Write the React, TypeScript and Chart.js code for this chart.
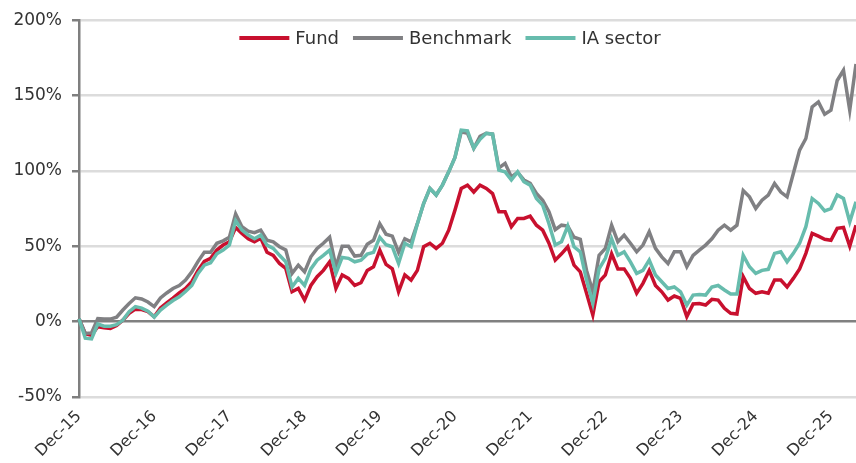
import React, { useEffect, useRef } from 'react';
import { Chart, registerables } from 'chart.js';

Chart.register(...registerables);

const MONTH_NAMES = ['Jan', 'Feb', 'Mar', 'Apr', 'May', 'Jun', 'Jul', 'Aug', 'Sep', 'Oct', 'Nov', 'Dec'];

// Monthly categories from Dec-15 to Apr-26
const categories: string[] = [];
for (let k = 0; k < 125; k++) {
  const m = (11 + k) % 12;
  const y = 15 + Math.floor((11 + k) / 12);
  categories.push(`${MONTH_NAMES[m]}-${y}`);
}

const tickLabels = ['Dec-15', 'Dec-16', 'Dec-17', 'Dec-18', 'Dec-19', 'Dec-20', 'Dec-21', 'Dec-22', 'Dec-23', 'Dec-24', 'Dec-25'];

const fund = [
  2, -8, -9, -3.4, -4, -4.5, -2.5, 1, 5.5, 8.3, 8, 6.6,
  3.3, 9, 12.5, 15.6, 19, 22, 26.5, 34, 40, 42, 47.5, 50.8,
  53, 62.5, 58.5, 55, 53, 55.4, 46, 44, 38.6, 35.3, 19.8, 22,
  14.3, 24, 29.8, 34, 39.7, 22, 31, 28.7, 24, 25.8, 34, 36.4,
  47.5, 38, 35, 19.8, 31, 27.6, 34, 49.7, 52, 48.6, 52, 60.7,
  74, 88.4, 90.6, 86, 90.6, 88.4, 85, 72.9, 72.9, 63, 68.5, 68.5,
  70, 64, 60.7, 52, 40.8, 45, 49.7, 37.5, 33, 18.8, 4.4, 26.5,
  31, 45, 35, 35, 28.7, 18.8, 25.4, 34, 24, 19.8, 14.3, 17,
  15.4, 3.3, 11.7, 12, 11, 14.8, 14.3, 8.8, 5.5, 5, 29.8, 22,
  18.8, 19.8, 18.8, 27.6, 27.6, 23, 28.7, 35, 45.3, 58.5, 56.7, 54.6,
  54, 61.9, 62.5, 50, 64,
];

const benchmark = [
  2, -7.8, -7.5, 2, 1.7, 1.7, 3, 7.7, 12, 15.8, 15, 13,
  10, 15.7, 19, 22, 24, 27.6, 33, 40, 46, 46, 52, 53.6,
  56, 71.5, 63, 60, 59, 60.7, 54, 53, 49.7, 47.5, 32, 37.5,
  33, 43, 48.6, 52, 56, 36.4, 50, 50, 43.5, 44, 51.4, 54,
  65, 58, 56.7, 46, 55, 53, 65, 78.4, 88.4, 84, 90.6, 99.4,
  109, 126, 125, 115, 123, 125, 124.4, 102, 105, 96, 99, 94,
  91.7, 85, 80.6, 72.9, 61, 64, 63.4, 56, 54.6, 34, 19.8, 44,
  48.6, 64, 53, 57.4, 52, 46.3, 50.8, 59.6, 48.6, 43, 38.6, 46.3,
  46.3, 36.4, 44, 47.5, 50.8, 55, 60.7, 64, 60.7, 64, 87, 82.8,
  75, 80.6, 84, 91.7, 86, 82.8, 98.3, 113.8, 121.5, 142.5, 145.8, 137.6,
  140.3, 160, 166.8, 140.3, 171,
];

const iaSector = [
  2, -11, -11.5, -1.6, -3, -3, -2, 1, 6.6, 10, 9, 7,
  3, 7.7, 11, 14, 16.5, 20, 24, 32, 37.5, 39, 45, 47.5,
  50.8, 67, 60.7, 57.4, 55, 57.4, 50.8, 48.6, 44, 39.7, 23, 28.7,
  24, 35, 40.8, 44, 47.5, 32, 42.6, 42, 39.7, 40.8, 44.8, 46,
  56, 51, 49.7, 38.6, 52, 49.7, 65, 78.4, 88.4, 84, 90.6, 99.4,
  109, 127, 126.6, 115, 121, 125, 124.4, 100.5, 99.4, 94, 99.4, 92.8,
  90.6, 81.7, 77.3, 65, 50.8, 53, 63.4, 49.7, 46.3, 27.6, 12, 35,
  42, 55, 44, 46.3, 39.7, 32, 34, 40.8, 31, 26.5, 22, 23,
  19.8, 11, 17.6, 18, 17.6, 23, 24, 21, 18.3, 18.3, 44, 36.4,
  32, 34, 34.7, 45.3, 46.3, 39.7, 45.3, 52, 63, 81.7, 78.4, 73.5,
  75, 84, 81.7, 66.2, 79.5,
];

const yTicks = [-50, 0, 50, 100, 150, 200];

const FONT = "'DejaVu Sans', sans-serif";

// Legend drawn across the top of the plot area, in one row
const topLegend = {
  id: 'topLegend',
  afterDatasetsDraw(chart: any) {
    const ctx = chart.ctx;
    const sw = 50;
    const gap = 6;
    const itemGap = 14;
    ctx.save();
    ctx.font = `18px ${FONT}`;
    const items = chart.data.datasets.map((ds: any) => ({
      label: ds.label,
      color: ds.borderColor,
      w: sw + gap + ctx.measureText(ds.label).width,
    }));
    const total = items.reduce((s: number, it: any) => s + it.w, 0) + itemGap * (items.length - 1);
    let x = 450 - total / 2;
    const y = 38;
    ctx.textBaseline = 'middle';
    ctx.textAlign = 'left';
    items.forEach((it: any) => {
      ctx.strokeStyle = it.color;
      ctx.lineWidth = 4;
      ctx.lineCap = 'butt';
      ctx.beginPath();
      ctx.moveTo(x, y);
      ctx.lineTo(x + sw, y);
      ctx.stroke();
      ctx.fillStyle = '#333333';
      ctx.fillText(it.label, x + sw + gap, y + 1);
      x += it.w + itemGap;
    });
    ctx.restore();
  },
};

export default function App() {
  const canvasRef = useRef<HTMLCanvasElement | null>(null);

  useEffect(() => {
    if (!canvasRef.current) return;
    const chart = new Chart(canvasRef.current, {
      type: 'line',
      data: {
        labels: categories,
        datasets: [
          { label: 'Fund', data: fund, borderColor: '#C8102E', backgroundColor: '#C8102E', borderWidth: 3.5, pointRadius: 0, tension: 0, order: 3 },
          { label: 'Benchmark', data: benchmark, borderColor: '#808083', backgroundColor: '#808083', borderWidth: 3.5, pointRadius: 0, tension: 0, order: 2 },
          { label: 'IA sector', data: iaSector, borderColor: '#67BCAD', backgroundColor: '#67BCAD', borderWidth: 3.5, pointRadius: 0, tension: 0, order: 1 },
        ],
      },
      options: {
        animation: false,
        responsive: false,
        maintainAspectRatio: false,
        layout: { padding: { top: 20, right: 0, left: 0, bottom: 0 } },
        plugins: {
          tooltip: { enabled: false },
          legend: { display: false },
        },
        scales: {
          x: {
            type: 'category',
            grid: { display: false, drawTicks: true, tickLength: 6 },
            border: { display: false },
            ticks: {
              autoSkip: false,
              minRotation: 45,
              maxRotation: 45,
              padding: 4,
              color: '#333333',
              font: { family: FONT, size: 16 },
              callback: (_v: any, i: number) => (tickLabels.includes(categories[i]) ? categories[i] : ''),
            },
            afterFit: (scale: any) => {
              scale.height = 66;
              scale.paddingRight = 0;
              scale.paddingLeft = 0;
            },
          },
          y: {
            min: -50,
            max: 200,
            afterBuildTicks: (scale: any) => {
              scale.ticks = yTicks.map((v) => ({ value: v }));
            },
            grid: {
              color: (ctx: any) => (ctx.tick && ctx.tick.value === 0 ? '#808080' : '#dcdcdc'),
              lineWidth: 2.5,
              tickColor: '#7f7f7f',
              tickLength: 7,
            },
            border: { display: true, color: '#7f7f7f', width: 2.5 },
            ticks: {
              padding: 10,
              color: '#333333',
              font: { family: FONT, size: 17 },
              callback: (v: any) => `${v}%`,
            },
            afterFit: (scale: any) => {
              scale.width = 79;
            },
          },
        },
      },
      plugins: [topLegend],
    });
    return () => chart.destroy();
  }, []);

  return (
    <div style={{ position: 'fixed', left: 0, top: 0, width: 856, height: 463, background: '#fff' }}>
      <canvas ref={canvasRef} width={856} height={463} style={{ width: 856, height: 463 }} />
    </div>
  );
}
